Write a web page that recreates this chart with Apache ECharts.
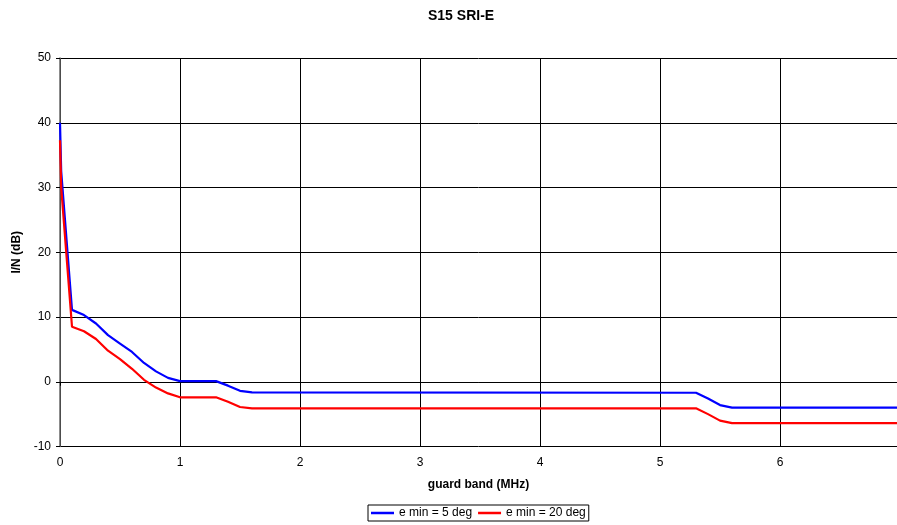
<!DOCTYPE html>
<html>
<head>
<meta charset="utf-8">
<script src="https://cdn.jsdelivr.net/npm/echarts@6/dist/echarts.min.js"></script>
<style>
  html, body { margin: 0; padding: 0; background: #fff; }
  #grafico { width: 897px; height: 525px; }
</style>
</head>
<body>
<div id="grafico"></div>
<script>
// Datos
const bandaGuarda = [0, 0.01, 0.1, 0.2, 0.3, 0.4, 0.5, 0.6, 0.7, 0.8, 0.9, 1.0, 1.3, 1.4, 1.5, 1.6, 5.3, 5.4, 5.5, 5.6, 7.0];
const emin5 = [40, 32.5, 11.1, 10.3, 9.0, 7.2, 5.9, 4.6, 2.9, 1.6, 0.6, 0.1, 0.1, -0.6, -1.4, -1.65, -1.7, -2.6, -3.6, -4.0, -4.0];
const emin20 = [37.3, 30, 8.5, 7.8, 6.6, 4.8, 3.5, 2.0, 0.3, -0.9, -1.8, -2.4, -2.4, -3.1, -3.9, -4.1, -4.1, -5.0, -6.0, -6.4, -6.4];
const nombres = ['e min = 5 deg', 'e min = 20 deg'];

const fuente = 'Liberation Sans, Arial, sans-serif';

const grafico = echarts.init(document.getElementById('grafico'));
grafico.setOption({
    animation: false,
    title: {
        text: 'S15 SRI-E',
        left: 423,
        top: 4,
        textStyle: { fontFamily: fuente, fontSize: 14, fontWeight: 'bold', color: '#000' }
    },
    legend: {
        data: nombres,
        left: 368,
        top: 505,
        padding: [2, 3],
        itemGap: 6,
        itemWidth: 23,
        itemHeight: 2.5,
        icon: 'rect',
        borderColor: '#000',
        borderWidth: 1,
        textStyle: { fontFamily: fuente, fontSize: 12, color: '#000' }
    },
    grid: { left: 60, right: 0, top: 58, bottom: 78.5, containLabel: false },
    xAxis: {
        type: 'value',
        min: 0,
        max: 6.975,
        interval: 1,
        name: 'guard band (MHz)',
        nameLocation: 'middle',
        nameGap: 32,
        nameTextStyle: { fontFamily: fuente, fontSize: 12, fontWeight: 'bold', color: '#000' },
        axisLine: { show: true, lineStyle: { color: '#000', width: 1 } },
        axisTick: { show: true, length: 4, lineStyle: { color: '#000' } },
        axisLabel: { showMaxLabel: false, margin: 10, fontFamily: fuente, fontSize: 12, color: '#000' },
        splitLine: { show: true, lineStyle: { color: '#000', width: 1 } }
    },
    yAxis: {
        type: 'value',
        min: -10,
        max: 50,
        interval: 10,
        name: 'I/N (dB)',
        nameLocation: 'middle',
        nameGap: 30,
        nameTextStyle: { fontFamily: fuente, fontSize: 12, fontWeight: 'bold', color: '#000' },
        axisLine: { show: true, lineStyle: { color: '#666', width: 1.5 } },
        axisTick: { show: true, length: 4, lineStyle: { color: '#000' } },
        axisLabel: { margin: 9, fontFamily: fuente, fontSize: 12, color: '#000' },
        splitLine: { show: true, lineStyle: { color: '#000', width: 1 } }
    },
    series: [
        {
            name: nombres[0],
            type: 'line',
            data: bandaGuarda.map((x, i) => [x, emin5[i]]),
            symbol: 'none',
            lineStyle: { color: '#0000ff', width: 2.2 },
            itemStyle: { color: '#0000ff' }
        },
        {
            name: nombres[1],
            type: 'line',
            data: bandaGuarda.map((x, i) => [x, emin20[i]]),
            symbol: 'none',
            lineStyle: { color: '#ff0000', width: 2.2 },
            itemStyle: { color: '#ff0000' }
        }
    ]
});
</script>
</body>
</html>
